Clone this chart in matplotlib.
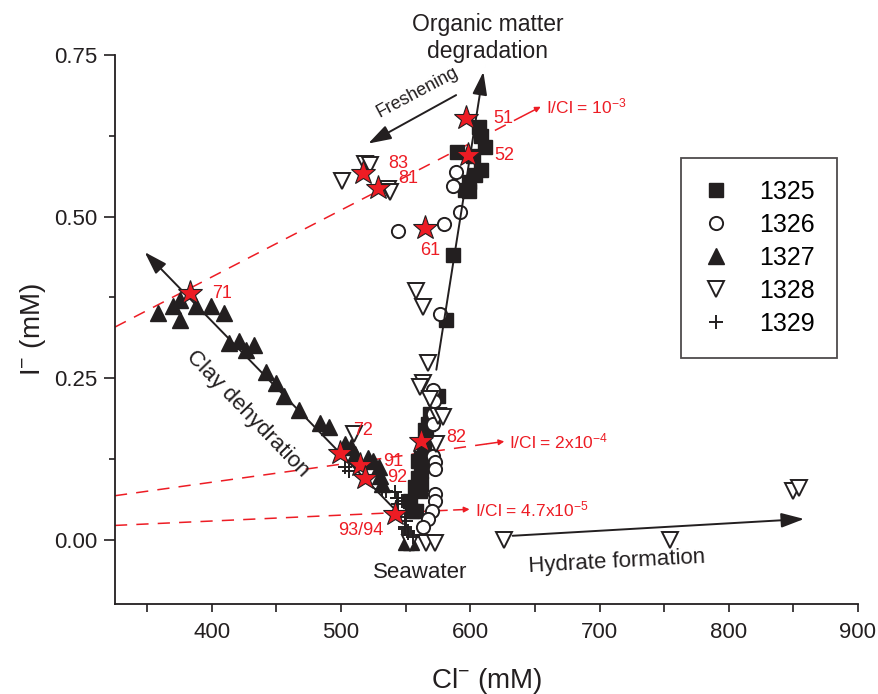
import matplotlib
matplotlib.use('Agg')
import matplotlib.pyplot as plt

plt.rcParams['font.family'] = ['Liberation Sans', 'DejaVu Sans']
plt.rcParams['mathtext.fontset'] = 'custom'
plt.rcParams['mathtext.rm'] = 'Liberation Sans'
plt.rcParams['mathtext.default'] = 'regular'

RED = '#ed1c24'
INK = '#231f20'

# Cl- (mM) and I- (mM) by site
cl_1325 = [606.5, 608, 611, 590, 602, 608, 604, 599, 599, 595.5, 586.5, 581,
           575, 568.6, 567.3, 564.8, 566, 564, 562, 562, 562, 561, 553, 554.5,
           558, 557, 559.6, 559.6]
i_1325 = [0.639, 0.624, 0.608, 0.600, 0.593, 0.572, 0.564, 0.554, 0.539, 0.541,
          0.441, 0.340, 0.223, 0.195, 0.179, 0.169, 0.160, 0.145, 0.127, 0.106,
          0.086, 0.076, 0.060, 0.045, 0.045, 0.081, 0.096, 0.122]

cl_1326 = [589, 586.5, 591.7, 580, 543.7, 576.3, 571, 572, 571, 571, 571,
           572.5, 573, 572.5, 573, 570, 567, 563.5]
i_1326 = [0.569, 0.548, 0.507, 0.489, 0.477, 0.349, 0.231, 0.215, 0.195,
          0.179, 0.130, 0.120, 0.109, 0.071, 0.060, 0.045, 0.032, 0.019]

cl_1327 = [358.3, 369.8, 375, 375, 387.8, 399.4, 409.6, 413.5, 421, 432.7,
           426.3, 441.7, 449.4, 455.8, 467.3, 484, 490.4, 503, 508, 511, 521,
           525, 529, 530, 531.4, 550, 554]
i_1327 = [0.351, 0.361, 0.340, 0.371, 0.361, 0.361, 0.351, 0.304, 0.307,
          0.302, 0.294, 0.260, 0.242, 0.222, 0.201, 0.180, 0.175, 0.148, 0.143,
          0.133, 0.127, 0.122, 0.112, 0.099, 0.086, -0.003, -0.003]

cl_1328 = [500.6, 518.6, 522, 536.5, 538, 509.6, 558.3, 563.5, 567.3, 563.5,
           561, 568.6, 575, 578.8, 573.7, 553, 566, 572.5, 626.3, 754.5, 849.4,
           854.5]
i_1328 = [0.555, 0.581, 0.580, 0.543, 0.538, 0.164, 0.385, 0.360, 0.274,
          0.243, 0.236, 0.218, 0.192, 0.190, 0.148, -0.005, -0.005, -0.005,
          0.0, 0.0, 0.075, 0.080]

cl_1329 = [503, 505.8, 531.4, 535, 541.7, 544, 546.8, 549.4, 550.4, 549.4, 552,
           555.8, 543, 544, 549.4, 552]
i_1329 = [0.113, 0.107, 0.078, 0.076, 0.073, 0.065, 0.060, 0.035, 0.029, 0.019,
          0.011, 0.004, 0.065, 0.055, 0.016, 0.014]

# highlighted samples
star_labels = ['51', '52', '83', '81', '61', '71', '72', '91', '92', '82', '93/94']
star_cl = [596.8, 598, 517.3, 528.8, 564.8, 382.7, 499.4, 514.8, 518.6, 562, 541.7]
star_i = [0.652, 0.595, 0.567, 0.544, 0.482, 0.381, 0.134, 0.116, 0.095, 0.152, 0.039]
star_offsets = [(27, 0), (27, 0), (25, 10), (20, 10), (-5, -22), (23, 0),
                (13, 23), (23, 3), (22, 1), (25, 4), (-12, -16)]

# I/Cl reference lines
ratio_text = ['I/Cl = 10$^{-3}$', 'I/Cl = 2x10$^{-4}$', 'I/Cl = 4.7x10$^{-5}$']
ratio_start = [(325, 0.329), (325, 0.068), (325, 0.022)]
ratio_end = [(654.5, 0.670), (626.3, 0.152), (599.4, 0.047)]

fig = plt.figure(figsize=(8.79, 6.94), dpi=100)
ax = fig.add_axes([0.1308, 0.1293, 0.8453, 0.7914])

# red dashed ratio lines with small arrow heads
for txt, (x0, y0), (x1, y1) in zip(ratio_text, ratio_start, ratio_end):
    xm = x0 + (x1 - x0) * 0.955
    ym = y0 + (y1 - y0) * 0.955
    ax.plot([x0, xm], [y0, ym], color=RED, lw=1.1, dashes=(8, 6), zorder=1)
    ax.annotate('', xy=(x1, y1), xytext=(xm, ym),
                arrowprops=dict(arrowstyle='-|>', color=RED, lw=1.1,
                                mutation_scale=8, shrinkA=0, shrinkB=0))
    ax.text(x1 + 4, y1, txt, color=RED, fontsize=12.5, va='center', ha='left')

ms_kw = dict(linestyle='none', zorder=3)
ax.plot(cl_1325, i_1325, marker='s', ms=10.5, color='black', mfc=INK, mec=INK,
        label='1325', **ms_kw)
ax.plot(cl_1326, i_1326, marker='o', ms=9.5, mfc='white', mec=INK, mew=1.4,
        label='1326', **ms_kw)
ax.plot(cl_1327, i_1327, marker='^', ms=12, mfc=INK, mec=INK,
        label='1327', **ms_kw)
ax.plot(cl_1328, i_1328, marker='v', ms=11.5, mfc='white', mec=INK, mew=1.4,
        label='1328', **ms_kw)
ax.plot(cl_1329, i_1329, marker='+', ms=10, mec=INK, mew=1.4,
        label='1329', **ms_kw)

# process arrows
arrow_kw = dict(arrowstyle='-|>,head_length=1.0,head_width=0.32', color=INK,
                lw=1.4, mutation_scale=14, shrinkA=0, shrinkB=0)
ax.annotate('', xy=(610.1, 0.724), xytext=(573.7, 0.263), arrowprops=arrow_kw,
            zorder=4)
ax.annotate('', xy=(521, 0.613), xytext=(589, 0.688), arrowprops=arrow_kw,
            zorder=4)
ax.annotate('', xy=(348, 0.445), xytext=(540, 0.05), arrowprops=arrow_kw,
            zorder=4)
ax.annotate('', xy=(858.3, 0.032), xytext=(632.7, 0.006), arrowprops=arrow_kw,
            zorder=4)

ax.plot(star_cl, star_i, linestyle='none', marker='*', ms=18.5, mfc=RED,
        mec=INK, mew=0.8, zorder=5)
for lab, x, y, (dx, dy) in zip(star_labels, star_cl, star_i, star_offsets):
    ax.annotate(lab, (x, y), xytext=(dx, dy), textcoords='offset pixels',
                color=RED, fontsize=13, va='center',
                ha='right' if lab == '93/94' else 'left')

ax.text(613.5, 0.776, 'Organic matter\ndegradation', fontsize=16.5, ha='center',
        va='center', color=INK, linespacing=1.2)
ax.text(559, 0.692, 'Freshening', fontsize=13, ha='center', va='center',
        rotation=28, color=INK)
ax.text(428, 0.195, 'Clay dehydration', fontsize=16, ha='center', va='center',
        rotation=-46, color=INK)
ax.text(713.5, -0.034, 'Hydrate formation', fontsize=16, ha='center',
        va='center', rotation=3, color=INK)
ax.text(561, -0.051, 'Seawater', fontsize=16, ha='center', va='center',
        color=INK)

ax.set_xlim(325, 900)
ax.set_ylim(-0.1, 0.75)
ax.set_xticks([400, 500, 600, 700, 800, 900])
ax.set_xticks([350, 450, 550, 650, 750, 850], minor=True)
ax.set_yticks([0.0, 0.25, 0.5, 0.75])
ax.set_yticks([0.125, 0.375, 0.625], minor=True)
ax.set_yticklabels(['0.00', '0.25', '0.50', '0.75'])
for s in ['top', 'right']:
    ax.spines[s].set_visible(False)
for s in ['left', 'bottom']:
    ax.spines[s].set_linewidth(1.3)
    ax.spines[s].set_color(INK)
ax.tick_params(axis='both', which='both', direction='out', width=1.2,
               colors=INK, labelsize=16)
ax.tick_params(axis='y', which='major', length=8, pad=5)
ax.tick_params(axis='y', which='minor', length=4)
ax.tick_params(axis='x', which='major', length=6, pad=7)
ax.tick_params(axis='x', which='minor', length=6)

ax.set_xlabel('Cl$^{-}$ (mM)', fontsize=20, color=INK, labelpad=16)
ax.set_ylabel('I$^{-}$ (mM)', fontsize=20, color=INK, labelpad=4)

leg = ax.legend(loc='upper left', bbox_to_anchor=(0.762, 0.8125),
                borderaxespad=0, fontsize=18, frameon=True, fancybox=False,
                edgecolor=INK, handlelength=1.05, handletextpad=1.2,
                labelspacing=0.36, borderpad=0.88, numpoints=1)
leg.get_frame().set_linewidth(1.3)

fig.savefig('out.png', dpi=100)
